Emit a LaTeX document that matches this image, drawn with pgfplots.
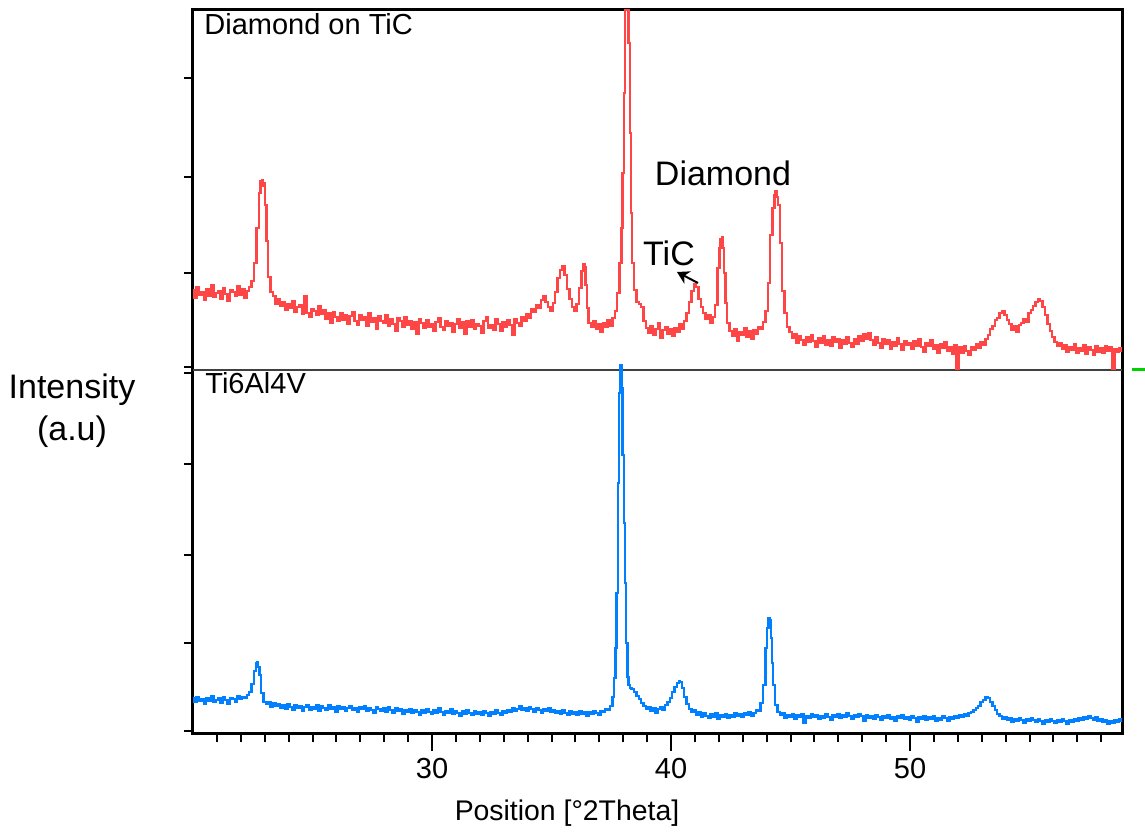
\documentclass[border=0pt]{standalone}
\usepackage{fontspec}
\setmainfont{Liberation Sans}
\usepackage{pgfplots}
\pgfplotsset{compat=1.18}
\usetikzlibrary{arrows.meta}
\definecolor{xred}{RGB}{255,70,70}
\definecolor{xblue}{RGB}{0,128,255}
\definecolor{xgreen}{RGB}{0,210,0}

\begin{document}
\begin{tikzpicture}
\begin{axis}[
  scale only axis,
  width=464.5pt, height=361.5pt,
  xmin=20, xmax=58.87, ymin=0, ymax=723,
  axis line style={line width=1.5pt},
  tick align=outside,
  xtick pos=bottom, ytick pos=left,
  xtick={30,40,50},
  minor xtick={21,...,58},
  ytick={-1000},
  yticklabels={},
  minor ytick={2,90,178,269,360,366,460,556,655},
  major tick length=9pt, minor tick length=4.3pt,
  every tick/.style={black, line width=1pt},
  xticklabel style={font=\fontsize{14.5}{17}\selectfont},
  /pgf/number format/assume math mode=true,
]
\draw[black!75, line width=1pt] (axis cs:20,363) -- (axis cs:58.87,363);

% Ti6Al4V
\addplot[xblue, line width=1.2pt, const plot mark mid] coordinates {
(20.0,35) (20.1,31) (20.2,36) (20.3,32) (20.4,34) (20.5,29) (20.6,35) (20.7,32) (20.8,37) (20.9,31)
(21.0,33) (21.1,35) (21.2,30) (21.3,36) (21.4,33) (21.5,29) (21.6,35) (21.7,34) (21.8,31) (21.9,37)
(22.0,34) (22.1,36) (22.2,35) (22.3,38) (22.4,41) (22.5,49) (22.6,62) (22.65,70) (22.7,71) (22.75,66)
(22.8,58) (22.9,40) (23.0,31) (23.1,29) (23.2,31) (23.3,26) (23.4,30) (23.5,27) (23.6,29) (23.7,25)
(23.8,28) (23.9,24) (24.0,29) (24.1,26) (24.2,23) (24.3,28) (24.4,25) (24.5,27) (24.6,22) (24.7,26)
(24.8,28) (24.9,23) (25.0,26) (25.1,24) (25.2,28) (25.3,22) (25.4,27) (25.5,25) (25.6,23) (25.7,28)
(25.8,24) (25.9,26) (26.0,21) (26.1,27) (26.2,24) (26.3,26) (26.4,22) (26.5,25) (26.6,27) (26.7,23)
(26.8,25) (26.9,21) (27.0,26) (27.1,24) (27.2,27) (27.3,22) (27.4,25) (27.5,23) (27.6,20) (27.7,26)
(27.8,24) (27.9,22) (28.0,25) (28.1,21) (28.2,26) (28.3,23) (28.4,20) (28.5,25) (28.6,22) (28.7,24)
(28.8,19) (28.9,23) (29.0,21) (29.1,24) (29.2,20) (29.3,23) (29.4,21) (29.5,18) (29.6,23) (29.7,20)
(29.8,24) (29.9,21) (30.0,19) (30.1,23) (30.2,20) (30.3,25) (30.4,21) (30.5,18) (30.6,22) (30.7,20)
(30.8,24) (30.9,19) (31.0,22) (31.1,20) (31.2,17) (31.3,22) (31.4,19) (31.5,23) (31.6,20) (31.7,18)
(31.8,22) (31.9,19) (32.0,21) (32.1,18) (32.2,22) (32.3,20) (32.4,17) (32.5,21) (32.6,19) (32.7,23)
(32.8,20) (32.9,18) (33.0,22) (33.1,20) (33.2,23) (33.3,21) (33.4,25) (33.5,22) (33.6,24) (33.7,27)
(33.8,23) (33.9,25) (34.0,22) (34.1,26) (34.2,24) (34.3,21) (34.4,25) (34.5,23) (34.6,20) (34.7,24)
(34.8,22) (34.9,25) (35.0,21) (35.1,23) (35.2,20) (35.3,22) (35.4,19) (35.5,23) (35.6,20) (35.7,18)
(35.8,22) (35.9,19) (36.0,21) (36.1,18) (36.2,22) (36.3,19) (36.4,21) (36.5,17) (36.6,21) (36.7,19)
(36.8,22) (36.9,20) (37.0,18) (37.1,22) (37.2,21) (37.3,24) (37.4,23) (37.5,27) (37.6,36) (37.65,55)
(37.7,85) (37.75,140) (37.8,250) (37.85,340) (37.9,368) (37.95,345) (38.0,278) (38.05,210) (38.1,150) (38.15,90)
(38.2,56) (38.25,48) (38.3,45) (38.4,44) (38.5,41) (38.6,37) (38.7,34) (38.8,30) (38.9,27) (39.0,24)
(39.1,26) (39.2,22) (39.3,25) (39.4,20) (39.5,24) (39.6,26) (39.7,23) (39.8,28) (39.9,31) (40.0,35)
(40.1,41) (40.2,46) (40.3,50) (40.35,52) (40.4,51) (40.5,45) (40.6,36) (40.7,29) (40.8,24) (40.9,21)
(41.0,23) (41.1,18) (41.2,21) (41.3,16) (41.4,20) (41.5,17) (41.6,15) (41.7,19) (41.8,16) (41.9,20)
(42.0,14) (42.1,18) (42.2,16) (42.3,19) (42.4,15) (42.5,18) (42.6,16) (42.7,20) (42.8,17) (42.9,19)
(43.0,16) (43.1,20) (43.2,18) (43.3,21) (43.4,17) (43.5,20) (43.6,23) (43.7,22) (43.8,30) (43.9,48)
(44.0,85) (44.05,105) (44.1,115) (44.15,113) (44.2,95) (44.25,70) (44.3,48) (44.4,28) (44.5,21) (44.6,18)
(44.7,20) (44.8,15) (44.9,18) (45.0,16) (45.1,19) (45.2,14) (45.3,18) (45.4,16) (45.5,19) (45.6,10)
(45.7,17) (45.8,15) (45.9,19) (46.0,16) (46.1,18) (46.2,14) (46.3,17) (46.4,15) (46.5,19) (46.6,16)
(46.7,13) (46.8,18) (46.9,16) (47.0,19) (47.1,15) (47.2,18) (47.3,16) (47.4,20) (47.5,17) (47.6,14)
(47.7,18) (47.8,16) (47.9,19) (48.0,17) (48.1,12) (48.2,18) (48.3,15) (48.4,17) (48.5,14) (48.6,18)
(48.7,16) (48.8,13) (48.9,17) (49.0,15) (49.1,18) (49.2,14) (49.3,16) (49.4,12) (49.5,17) (49.6,15)
(49.7,18) (49.8,14) (49.9,16) (50.0,13) (50.1,17) (50.2,15) (50.3,11) (50.4,16) (50.5,14) (50.6,17)
(50.7,13) (50.8,16) (50.9,14) (51.0,17) (51.1,12) (51.2,15) (51.3,13) (51.4,17) (51.5,15) (51.6,12)
(51.7,16) (51.8,14) (51.9,17) (52.0,15) (52.1,18) (52.2,16) (52.3,19) (52.4,17) (52.5,20) (52.6,21)
(52.7,23) (52.8,25) (52.9,27) (53.0,31) (53.1,33) (53.2,36) (53.3,35) (53.4,31) (53.5,27) (53.6,23)
(53.7,19) (53.8,17) (53.9,14) (54.0,16) (54.1,13) (54.2,15) (54.3,11) (54.4,14) (54.5,12) (54.6,15)
(54.7,13) (54.8,10) (54.9,14) (55.0,12) (55.1,15) (55.2,13) (55.3,11) (55.4,14) (55.5,12) (55.6,9)
(55.7,13) (55.8,11) (55.9,14) (56.0,12) (56.1,10) (56.2,13) (56.3,11) (56.4,14) (56.5,12) (56.6,9)
(56.7,13) (56.8,11) (56.9,14) (57.0,12) (57.1,15) (57.2,13) (57.3,16) (57.4,14) (57.5,17) (57.6,15)
(57.7,13) (57.8,16) (57.9,12) (58.0,14) (58.1,11) (58.2,13) (58.3,9) (58.4,12) (58.5,10) (58.6,13)
(58.7,11) (58.8,14) (58.9,12)
};

% Diamond on TiC
\addplot[xred, line width=1.2pt, const plot mark mid] coordinates {
(20.0,443) (20.1,435) (20.2,446) (20.3,438) (20.4,441) (20.5,433) (20.6,444) (20.7,437) (20.8,448) (20.9,436)
(21.0,440) (21.1,442) (21.2,434) (21.3,445) (21.4,439) (21.5,432) (21.6,443) (21.7,441) (21.8,437) (21.9,447)
(22.0,438) (22.1,444) (22.2,435) (22.3,442) (22.4,446) (22.5,452) (22.6,470) (22.7,505) (22.8,540) (22.85,552)
(22.9,553) (22.95,547) (23.0,550) (23.05,528) (23.1,492) (23.2,456) (23.3,441) (23.4,437) (23.5,429) (23.6,434)
(23.7,427) (23.8,431) (23.9,423) (24.0,429) (24.1,425) (24.2,432) (24.3,421) (24.4,426) (24.5,428) (24.6,419)
(24.7,437) (24.8,420) (24.9,416) (25.0,424) (25.1,422) (25.2,418) (25.3,427) (25.4,419) (25.5,423) (25.6,414)
(25.7,420) (25.8,410) (25.9,421) (26.0,416) (26.1,412) (26.2,420) (26.3,413) (26.4,418) (26.5,409) (26.6,417)
(26.7,421) (26.8,412) (26.9,408) (27.0,418) (27.1,413) (27.2,416) (27.3,407) (27.4,420) (27.5,411) (27.6,415)
(27.7,404) (27.8,417) (27.9,412) (28.0,410) (28.1,418) (28.2,407) (28.3,414) (28.4,409) (28.5,402) (28.6,415)
(28.7,412) (28.8,406) (28.9,416) (29.0,408) (29.1,412) (29.2,404) (29.3,411) (29.4,399) (29.5,414) (29.6,410)
(29.7,405) (29.8,413) (29.9,406) (30.0,409) (30.1,402) (30.2,411) (30.3,415) (30.4,406) (30.5,403) (30.6,412)
(30.7,407) (30.8,410) (30.9,401) (31.0,409) (31.1,414) (31.2,405) (31.3,411) (31.4,399) (31.5,412) (31.6,406)
(31.7,413) (31.8,404) (31.9,409) (32.0,407) (32.1,400) (32.2,412) (32.3,416) (32.4,405) (32.5,408) (32.6,403)
(32.7,414) (32.8,409) (32.9,402) (33.0,411) (33.1,406) (33.2,413) (33.3,408) (33.4,398) (33.5,414) (33.6,410)
(33.7,407) (33.8,416) (33.9,412) (34.0,419) (34.1,415) (34.2,424) (34.3,421) (34.4,428) (34.5,425) (34.6,433)
(34.7,437) (34.8,431) (34.9,426) (35.0,422) (35.1,430) (35.2,441) (35.3,455) (35.4,463) (35.5,467) (35.6,458)
(35.7,444) (35.8,434) (35.9,426) (36.0,422) (36.1,429) (36.2,445) (36.3,462) (36.35,469) (36.4,466) (36.45,448)
(36.5,425) (36.6,410) (36.7,406) (36.8,412) (36.9,404) (37.0,409) (37.1,401) (37.2,410) (37.3,406) (37.4,413)
(37.5,407) (37.6,415) (37.7,422) (37.8,440) (37.9,470) (37.95,505) (38.0,560) (38.05,640) (38.1,723) (38.15,740)
(38.2,740) (38.25,690) (38.3,600) (38.35,520) (38.4,470) (38.5,443) (38.6,431) (38.7,429) (38.8,426) (38.9,412)
(39.0,405) (39.1,400) (39.2,407) (39.3,398) (39.4,404) (39.5,410) (39.6,395) (39.7,403) (39.8,406) (39.9,399)
(40.0,404) (40.1,397) (40.2,405) (40.3,401) (40.4,409) (40.5,404) (40.6,412) (40.7,420) (40.8,431) (40.9,442)
(41.0,449) (41.1,446) (41.2,434) (41.3,426) (41.4,420) (41.5,414) (41.6,418) (41.7,410) (41.8,416) (41.9,428)
(42.0,465) (42.05,485) (42.1,494) (42.15,496) (42.2,485) (42.25,460) (42.3,430) (42.4,410) (42.5,402) (42.6,397)
(42.7,404) (42.8,392) (42.9,401) (43.0,398) (43.1,405) (43.2,396) (43.3,402) (43.4,394) (43.5,403) (43.6,399)
(43.7,406) (43.8,404) (43.9,411) (44.0,422) (44.1,450) (44.2,498) (44.3,525) (44.35,538) (44.4,542) (44.45,536)
(44.5,528) (44.6,490) (44.7,442) (44.8,420) (44.9,406) (45.0,401) (45.1,395) (45.2,399) (45.3,390) (45.4,397)
(45.5,393) (45.6,388) (45.7,396) (45.8,391) (45.9,398) (46.0,392) (46.1,386) (46.2,395) (46.3,390) (46.4,397)
(46.5,388) (46.6,393) (46.7,387) (46.8,396) (46.9,391) (47.0,394) (47.1,385) (47.2,393) (47.3,389) (47.4,396)
(47.5,390) (47.6,386) (47.7,394) (47.8,389) (47.9,397) (48.0,392) (48.1,399) (48.2,394) (48.3,400) (48.4,393)
(48.5,388) (48.6,396) (48.7,390) (48.8,385) (48.9,394) (49.0,389) (49.1,393) (49.2,384) (49.3,391) (49.4,387)
(49.5,395) (49.6,389) (49.7,383) (49.8,392) (49.9,388) (50.0,390) (50.1,384) (50.2,392) (50.3,387) (50.4,394)
(50.5,386) (50.6,381) (50.7,390) (50.8,387) (50.9,393) (51.0,384) (51.1,388) (51.2,380) (51.3,389) (51.4,385)
(51.5,391) (51.6,382) (51.7,386) (51.8,379) (51.9,388) (52.0,364) (52.1,386) (52.2,380) (52.3,387) (52.4,382)
(52.5,378) (52.6,386) (52.7,383) (52.8,389) (52.9,385) (53.0,391) (53.1,388) (53.2,394) (53.3,398) (53.4,404)
(53.5,407) (53.6,413) (53.7,415) (53.8,420) (53.9,422) (54.0,418) (54.1,413) (54.2,409) (54.3,403) (54.4,407)
(54.5,401) (54.6,408) (54.7,410) (54.8,414) (54.9,411) (55.0,420) (55.1,423) (55.2,427) (55.3,431) (55.4,434)
(55.5,432) (55.6,426) (55.7,418) (55.8,409) (55.9,402) (56.0,396) (56.1,391) (56.2,387) (56.3,390) (56.4,384)
(56.5,388) (56.6,381) (56.7,386) (56.8,383) (56.9,389) (57.0,380) (57.1,385) (57.2,382) (57.3,388) (57.4,379)
(57.5,386) (57.6,383) (57.7,378) (57.8,387) (57.9,381) (58.0,385) (58.1,380) (58.2,387) (58.3,382) (58.4,386)
(58.5,364) (58.6,384) (58.7,381) (58.8,385) (58.9,382)
};
\end{axis}

\node[anchor=base west, font=\fontsize{14.5}{17}\selectfont, inner sep=0] at (5.5pt,349pt) {Diamond on TiC};
\node[anchor=base west, font=\fontsize{14.5}{17}\selectfont, inner sep=0] at (6pt,170pt) {Ti6Al4V};
\node[anchor=base, font=\fontsize{17}{20}\selectfont, inner sep=0] at (265pt,274pt) {Diamond};
\node[anchor=base, font=\fontsize{17}{20}\selectfont, inner sep=0] at (238pt,234pt) {TiC};
\draw[-{Stealth[length=6pt,width=7pt]}, line width=1pt] (252.5pt,225pt) -- (242pt,230.5pt);
\node[anchor=base, font=\fontsize{17}{20}\selectfont, inner sep=0] at (-60.5pt,167.5pt) {Intensity};
\node[anchor=base, font=\fontsize{17}{20}\selectfont, inner sep=0] at (-60.5pt,146.5pt) {(a.u)};
\node[anchor=base, font=\fontsize{14.2}{17}\selectfont, inner sep=0] at (187pt,-43.5pt) {Position [°2Theta]};
\draw[xgreen, line width=1.5pt] (469.5pt,182pt) -- (476pt,182pt);

\pgfresetboundingbox
\path (-96.5pt,-49.5pt) rectangle (476pt,366.5pt);
\end{tikzpicture}
\end{document}
